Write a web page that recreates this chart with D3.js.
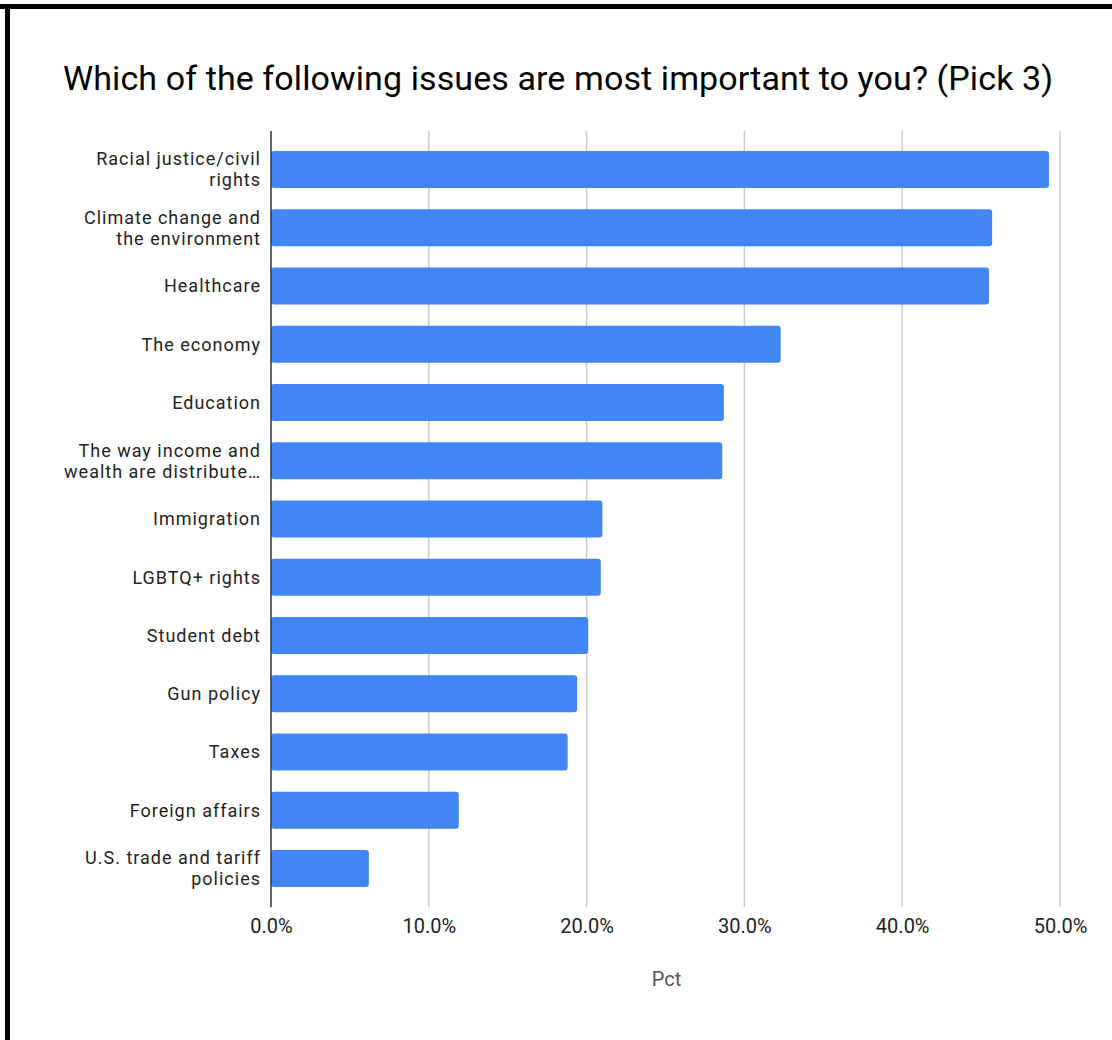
<!DOCTYPE html>
<html>
<head>
<meta charset="utf-8">
<script src="https://cdn.jsdelivr.net/npm/d3@7"></script>
<style>
  html, body { margin: 0; padding: 0; background: #fff; }
  svg { display: block; font-family: Roboto, Arial, sans-serif; }
</style>
</head>
<body>
<div id="chart"></div>
<script>
// data
const categories = [
  ['Racial justice/civil', 'rights'],
  ['Climate change and', 'the environment'],
  ['Healthcare'],
  ['The economy'],
  ['Education'],
  ['The way income and', 'wealth are distribute…'],
  ['Immigration'],
  ['LGBTQ+ rights'],
  ['Student debt'],
  ['Gun policy'],
  ['Taxes'],
  ['Foreign affairs'],
  ['U.S. trade and tariff', 'policies']
];
const pctValues = [0.493, 0.457, 0.455, 0.323, 0.287, 0.286, 0.210, 0.209, 0.201, 0.194, 0.188, 0.119, 0.062];
const tickValues = [0, 0.1, 0.2, 0.3, 0.4, 0.5];
const chartTitle = 'Which of the following issues are most important to you? (Pick 3)';
const axisTitle = 'Pct';

// sizes
const width = 1112,
      height = 1040,
      margins = { top: 131, right: 52, bottom: 133, left: 271 };

const innerW = width - margins.left - margins.right;
const innerH = height - margins.top - margins.bottom;

const xScale = d3.scaleLinear()
  .domain([0, 0.5])
  .range([0, innerW]);

const yScale = d3.scaleBand()
  .domain(d3.range(categories.length))
  .range([0, innerH])
  .paddingInner(0.365)
  .paddingOuter(0.343);

const $svg = d3.select('#chart').append('svg')
  .attr('width', width)
  .attr('height', height);

// frame borders
$svg.append('rect')
  .attr('x', 0).attr('y', 4)
  .attr('width', width).attr('height', 5)
  .style('fill', '#000');
$svg.append('rect')
  .attr('x', 5).attr('y', 4)
  .attr('width', 5).attr('height', height)
  .style('fill', '#000');

$svg.append('text')
  .attr('x', 63)
  .attr('y', 90)
  .style('font-size', '34px')
  .style('letter-spacing', '0.1px')
  .style('fill', '#000')
  .text(chartTitle);

const $g = $svg.append('g')
  .attr('transform', `translate(${margins.left}, ${margins.top})`);

// gridlines
$g.append('g')
  .selectAll('line')
  .data(tickValues.slice(1))
  .enter()
  .append('line')
  .attr('x1', d => xScale(d))
  .attr('x2', d => xScale(d))
  .attr('y1', 0)
  .attr('y2', innerH)
  .style('stroke', '#ccc')
  .style('stroke-width', 1.5);

// bars
$g.append('g')
  .selectAll('rect')
  .data(pctValues)
  .enter()
  .append('rect')
  .attr('x', 0)
  .attr('y', (d, i) => yScale(i))
  .attr('width', d => xScale(d))
  .attr('height', yScale.bandwidth())
  .attr('rx', 3)
  .style('fill', '#4285f4');

// baseline
$g.append('line')
  .attr('x1', 0).attr('x2', 0)
  .attr('y1', 0).attr('y2', innerH)
  .style('stroke', '#333')
  .style('stroke-width', 1.5);

// x axis
const xAxis = d3.axisBottom(xScale)
  .tickValues(tickValues)
  .tickSize(0)
  .tickPadding(12)
  .tickFormat(d3.format('.1%'));

const $xAxisGroup = $g.append('g')
  .attr('transform', `translate(0, ${innerH})`)
  .call(xAxis);
$xAxisGroup.select('.domain').remove();
$xAxisGroup.selectAll('text')
  .style('font-family', 'Roboto, Arial, sans-serif')
  .style('font-size', '20px')
  .style('fill', '#222');

// y labels
const lineH = 21;
const $labels = $g.append('g')
  .selectAll('text')
  .data(categories)
  .enter()
  .append('text')
  .attr('text-anchor', 'end')
  .style('font-size', '18px')
  .style('letter-spacing', '1px')
  .style('fill', '#222')
  .attr('transform', (d, i) => `translate(-10, ${yScale(i) + yScale.bandwidth() / 2})`);

$labels.selectAll('tspan')
  .data(d => d.map((t, j) => ({ t, j, n: d.length })))
  .enter()
  .append('tspan')
  .attr('x', 0)
  .attr('y', d => (d.j - (d.n - 1) / 2) * lineH)
  .attr('dy', '0.35em')
  .text(d => d.t);

$svg.append('text')
  .attr('x', margins.left + innerW / 2 + 1)
  .attr('y', 986)
  .attr('text-anchor', 'middle')
  .style('font-size', '20px')
  .style('fill', '#555')
  .text(axisTitle);
</script>
</body>
</html>
